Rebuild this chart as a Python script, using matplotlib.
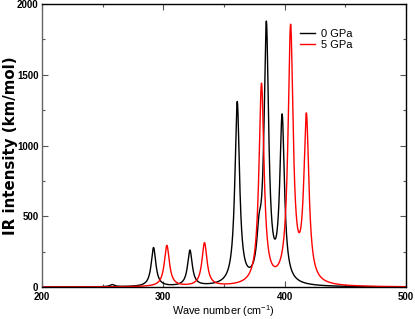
import numpy as np
import matplotlib
matplotlib.use("Agg")
import matplotlib.pyplot as plt

plt.rcParams['font.family'] = ['Liberation Sans', 'DejaVu Sans']
plt.rcParams['mathtext.fontset'] = 'custom'
plt.rcParams['mathtext.rm'] = 'Liberation Sans'
plt.rcParams['mathtext.it'] = 'Liberation Sans:italic'

# IR modes: wave number (cm-1) and intensity (km/mol)
modes_0gpa = [258, 292, 322, 361, 379, 385, 398]
inten_0gpa = [15, 275, 252, 1285, 250, 1800, 1160]
modes_5gpa = [303, 334, 381, 405, 418]
inten_5gpa = [290, 305, 1415, 1800, 1160]
# Lorentzian half widths (cm-1)
hw_0gpa = 2.3
hw_5gpa = 2.5

wn = np.linspace(200, 500, 3001)


def spectrum(modes, inten, hw):
    y = np.zeros_like(wn)
    for m, h in zip(modes, inten):
        y += h * hw**2 / ((wn - m)**2 + hw**2)
    return y


fig = plt.figure(figsize=(4.15, 3.19), dpi=100)
ax = fig.add_axes([0.101, 0.100, 0.877, 0.8875])

ax.plot(wn, spectrum(modes_0gpa, inten_0gpa, hw_0gpa), color='black', lw=1.0, label='0 GPa')
ax.plot(wn, spectrum(modes_5gpa, inten_5gpa, hw_5gpa), color='red', lw=1.0, label='5 GPa')

ax.set_xlim(200, 500)
ax.set_ylim(0, 2000)
ax.set_xticks([200, 300, 400, 500])
ax.set_xticks([250, 350, 450], minor=True)
ax.set_yticks([0, 500, 1000, 1500, 2000])
ax.set_yticks([250, 750, 1250, 1750], minor=True)
ax.tick_params(which='both', direction='in', top=True, right=True, pad=2.5,
               labelsize=7, color='#555555')
ax.tick_params(axis='x', which='major', pad=3.5)
ax.tick_params(which='major', length=4.3, width=0.8)
ax.tick_params(which='minor', length=2.5, width=0.8)
for lbl in ax.get_xticklabels() + ax.get_yticklabels():
    lbl.set_fontweight('bold')

for s in ax.spines.values():
    s.set_linewidth(1.0)
ax.spines['left'].set_color('#666666')

ax.set_xlabel('Wave number (cm$^{-1}$)', fontsize=7.8)
ax.xaxis.set_label_coords(0.5, -0.057)
ax.xaxis.label.set_va('top')
ax.set_ylabel('IR intensity (km/mol)', fontsize=10.8, fontweight='bold',
              family='DejaVu Sans')
ax.yaxis.set_label_coords(-0.067, 0.5)

ax.legend(loc='upper left', bbox_to_anchor=(0.71, 0.912), frameon=False, fontsize=8,
          handlelength=1.3, handletextpad=0.6, labelspacing=0.1, borderpad=0,
          borderaxespad=0)

fig.savefig('out.png', dpi=100)
